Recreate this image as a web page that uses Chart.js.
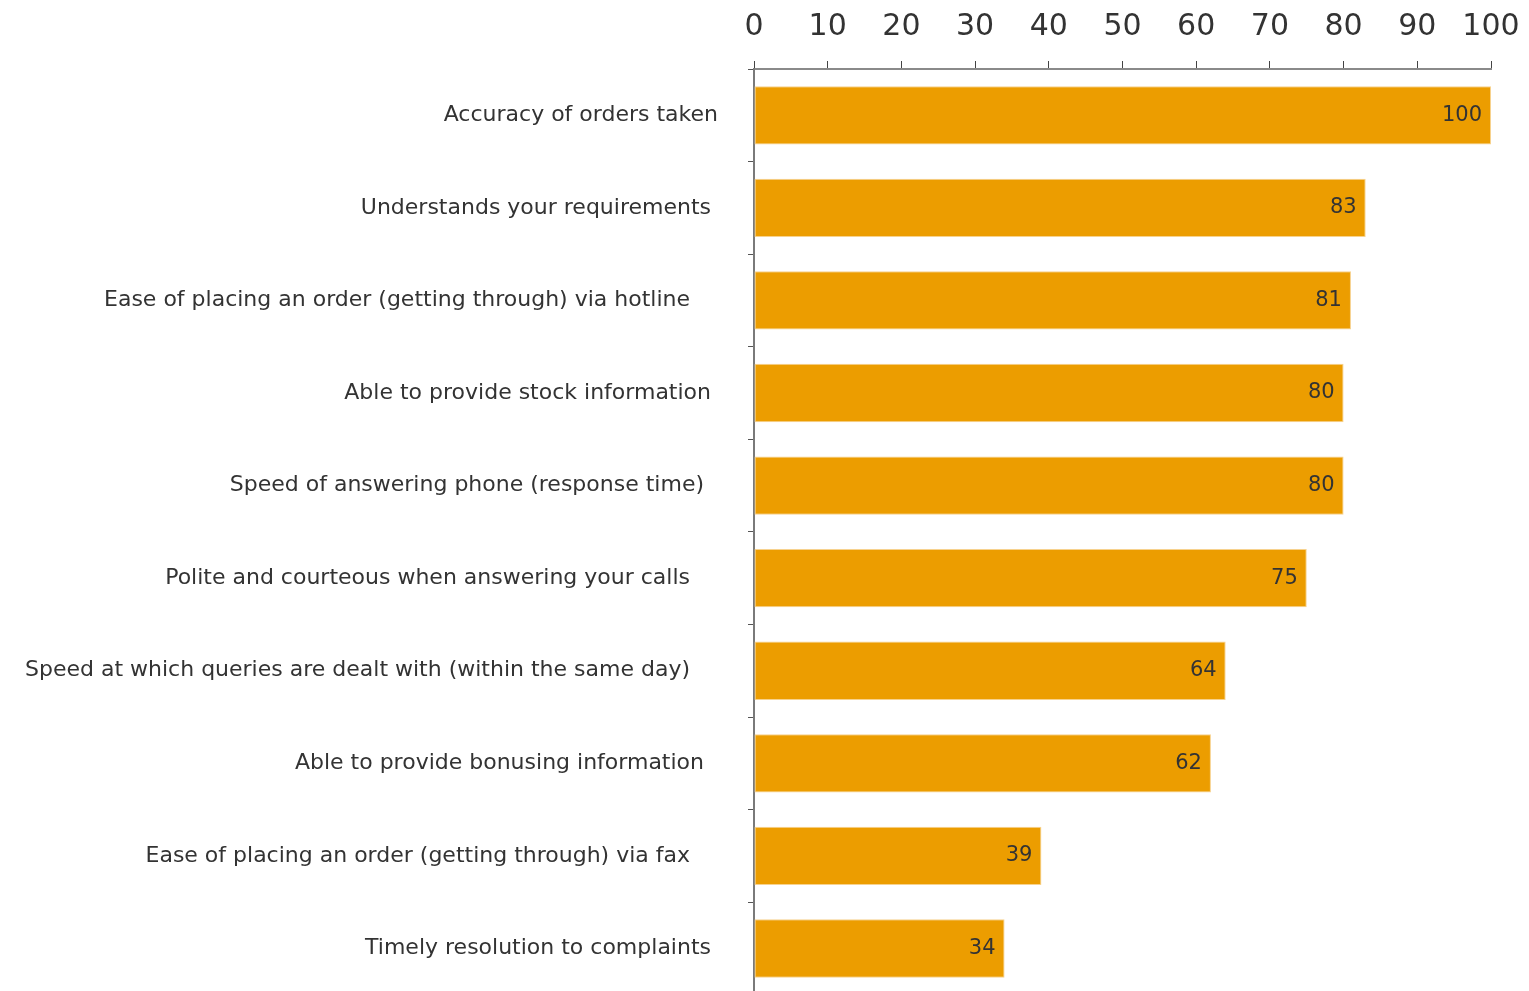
<!DOCTYPE html>
<html>
<head>
<meta charset="utf-8">
<title>Order desk performance</title>
<script src="https://cdn.jsdelivr.net/npm/chart.js@4.4.1/dist/chart.umd.min.js"></script>
<style>
  html, body { margin: 0; padding: 0; background: #fff; overflow: hidden; }
  canvas { display: block; }
</style>
</head>
<body>
<canvas id="chart" width="1529" height="1038"></canvas>
<script>
// categories carry trailing spaces so they sit a little short of the axis, as typed
const categories = [
  "Accuracy of orders taken",
  "Understands your requirements ",
  "Ease of placing an order (getting through) via hotline    ",
  "Able to provide stock information ",
  "Speed of answering phone (response time)  ",
  "Polite and courteous when answering your calls    ",
  "Speed at which queries are dealt with (within the same day)    ",
  "Able to provide bonusing information  ",
  "Ease of placing an order (getting through) via fax    ",
  "Timely resolution to complaints "
];
const scores = [100, 83, 81, 80, 80, 75, 64, 62, 39, 34];
const xTicks = [0, 10, 20, 30, 40, 50, 60, 70, 80, 90, 100];

const BAR_COLOR = "#ec9d00";
const TEXT_COLOR = "#333333";
const FONT = "'DejaVu Sans', Verdana, sans-serif";

// value written inside the end of each bar
const valueLabels = {
  id: "valueLabels",
  afterDatasetsDraw(chart) {
    const ctx = chart.ctx;
    const meta = chart.getDatasetMeta(0);
    ctx.save();
    ctx.font = "21px " + FONT;
    ctx.fillStyle = TEXT_COLOR;
    ctx.textAlign = "right";
    ctx.textBaseline = "middle";
    meta.data.forEach((bar, i) => {
      ctx.fillText(String(scores[i]), bar.x - 9, bar.y);
    });
    ctx.restore();
  }
};

new Chart(document.getElementById("chart"), {
  type: "bar",
  data: {
    labels: categories,
    datasets: [{
      data: scores,
      backgroundColor: BAR_COLOR,
      borderColor: "#f7d28e",
      borderWidth: 1,
      borderSkipped: false,
      barPercentage: 1,
      categoryPercentage: 0.63
    }]
  },
  options: {
    indexAxis: "y",
    responsive: false,
    animation: false,
    layout: { padding: { left: 0, right: 38, top: 2, bottom: 3 } },
    plugins: {
      legend: { display: false },
      tooltip: { enabled: false }
    },
    scales: {
      x: {
        position: "top",
        min: 0,
        max: 100,
        afterBuildTicks(scale) {
          scale.ticks = xTicks.map(v => ({ value: v }));
        },
        afterFit(scale) {
          scale.height = 67;
          // the end labels may overhang the plot; don't reserve room for them
          scale.paddingLeft = 0;
          scale.paddingRight = 0;
        },
        border: { display: true, color: "#8a8a8a", width: 2 },
        grid: {
          drawOnChartArea: false,
          drawTicks: true,
          tickLength: 8,
          color: "#444444",
          lineWidth: 1
        },
        ticks: {
          color: TEXT_COLOR,
          font: { family: FONT, size: 30 },
          padding: 16,
          maxRotation: 0
        }
      },
      y: {
        afterFit(scale) { scale.width = 754; },
        border: { display: true, color: "#7a7a7a", width: 2 },
        grid: {
          drawOnChartArea: false,
          drawTicks: true,
          tickLength: 6,
          color: "#555555",
          lineWidth: 1
        },
        ticks: {
          color: TEXT_COLOR,
          font: { family: FONT, size: 22 },
          padding: 30
        }
      }
    }
  },
  plugins: [valueLabels]
});
</script>
</body>
</html>
